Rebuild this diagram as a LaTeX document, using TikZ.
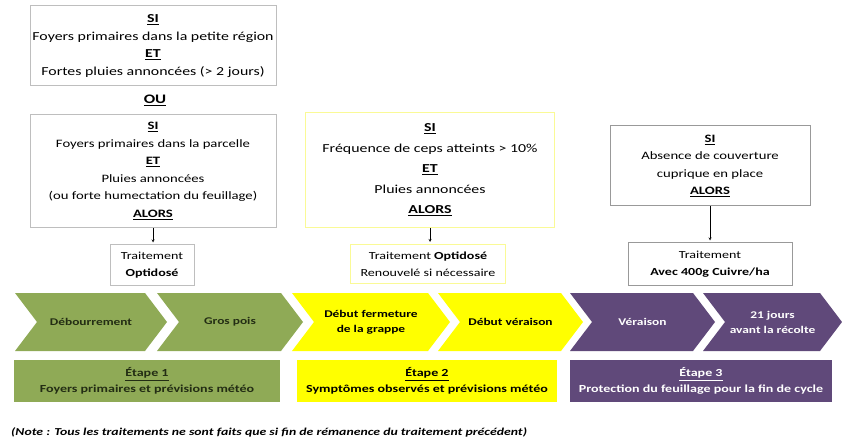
\documentclass[tikz,border=0pt]{standalone}
\usepackage{fontspec}
\setmainfont[FakeStretch=1.3]{Carlito}
\definecolor{vert}{RGB}{143,170,86}
\definecolor{jaune}{RGB}{255,255,0}
\definecolor{violet}{RGB}{96,73,122}
\definecolor{sombre}{RGB}{35,45,20}
\definecolor{bordgris}{RGB}{190,190,190}
\definecolor{bordjaune}{RGB}{250,250,150}
\tikzset{
  cond/.style={draw=bordgris, line width=1pt, align=center, inner sep=0pt,
    font=\fontsize{11.3}{17.5}\selectfont},
  trait/.style={cond, font=\fontsize{10.8}{16.5}\selectfont},
  etape/.style={align=center, inner sep=0pt, font=\bfseries\fontsize{10.8}{16}\selectfont},
  fleche/.style={->, >=stealth, shorten >=2pt}
}
\newcommand{\ssi}{\underline{\textbf{SI}}}
\newcommand{\alors}{\underline{\textbf{ALORS}}}
\begin{document}
\begin{tikzpicture}[x=1pt,y=-1pt]
\useasboundingbox (0,0) rectangle (842,443);
% conditions
\node[cond, minimum width=246pt, minimum height=80pt, font=\fontsize{12.2}{17.5}\selectfont] (c1) at (153,46)
  {\ssi\\Foyers primaires dans la petite région\\\underline{\textbf{ET}}\\Fortes pluies annoncées (> 2 jours)};
\node[font=\bfseries\fontsize{13}{16}\selectfont] (ou) at (155,100) {\underline{OU}};
\node[cond, minimum width=246pt, minimum height=113pt] (c2) at (153,171)
  {\ssi\\Foyers primaires dans la parcelle\\\underline{\textbf{ET}}\\Pluies annoncées\\(ou forte humectation du feuillage)\\\alors};
\node[cond, draw=bordjaune, minimum width=249pt, minimum height=115pt,
  font=\fontsize{12.2}{20.5}\selectfont] (c3) at (430,170)
  {\ssi\\Fréquence de ceps atteints > 10\%\\\underline{\textbf{ET}}\\Pluies annoncées\\\alors};
\node[cond, draw=gray!80, minimum width=200pt, minimum height=80pt] (c4) at (710,166)
  {\ssi\\Absence de couverture\\cuprique en place\\\alors};
% traitements
\node[trait, minimum width=84pt, minimum height=40pt] (t1) at (152,265)
  {Traitement\\\textbf{Optidosé}};
\node[trait, draw=bordjaune, minimum width=155pt, minimum height=39pt] (t2) at (428,264)
  {Traitement \textbf{Optidosé}\\Renouvelé si nécessaire};
\node[trait, draw=gray!80, minimum width=164pt, minimum height=42pt] (t3) at (710,264)
  {Traitement\\\textbf{Avec 400g Cuivre/ha}};
\draw[fleche] (c2.south) -- (c2.south |- t1.north);
\draw[fleche] (c3.south) -- (c3.south |- t2.north);
\draw[fleche] (c4.south) -- (c4.south |- t3.north);
% phases
\foreach \l/\r/\col/\tcol/\txt [count=\i] in {
  15/167/vert/sombre/Débourrement,
  157/303/vert/sombre/Gros pois,
  292/450/jaune/black/{Début fermeture\\de la grappe},
  438/583/jaune/black/Début véraison,
  570/715/violet/white/Véraison,
  703/842/violet/white/{21 jours\\avant la récolte}}
{
  \fill[\col] (\l,293) -- (\r-22,293) -- (\r,322) -- (\r-22,351) -- (\l,351) -- (\l+22,322) -- cycle;
  \node[align=center, text=\tcol, font=\bfseries\fontsize{10.3}{15}\selectfont] (ph\i) at ({(\l+\r)/2},322) {\txt};
}
% etapes
\node[etape, fill=vert, text=sombre, minimum width=266pt, minimum height=42pt] (e1) at (147,381)
  {\underline{Étape 1}\\Foyers primaires et prévisions météo};
\node[etape, fill=jaune, minimum width=260pt, minimum height=42pt] (e2) at (427,381)
  {\underline{Étape 2}\\Symptômes observés et prévisions météo};
\node[etape, fill=violet, text=white, minimum width=262pt, minimum height=42pt] (e3) at (701,381)
  {\underline{Étape 3}\\Protection du feuillage pour la fin de cycle};
\node[anchor=west, inner sep=0pt, font=\bfseries\itshape\fontsize{10.6}{14}\selectfont] (note) at (11,432)
  {(Note : Tous les traitements ne sont faits que si fin de rémanence du traitement précédent)};
\end{tikzpicture}
\end{document}
